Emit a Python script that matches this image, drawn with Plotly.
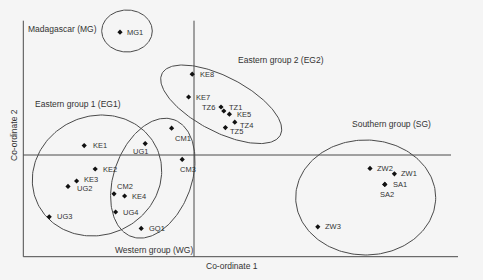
import numpy as np
import plotly.graph_objects as go

# ---- data (PCoA coordinates) ----
samples = ["MG1", "KE8", "KE7", "TZ6", "TZ1", "KE5", "TZ4", "TZ5", "CM1", "KE1",
           "UG1", "CM3", "KE2", "KE3", "UG2", "CM2", "KE4", "UG4", "UG3", "GQ1",
           "ZW2", "ZW1", "SA1", "SA2", "ZW3"]
coord1 = [-0.370, -0.009, -0.027, 0.135, 0.149, 0.177, 0.204, 0.157, -0.112, -0.549,
          -0.244, -0.059, -0.494, -0.587, -0.630, -0.400, -0.347, -0.392, -0.724, -0.264,
          0.880, 1.002, 0.954, 0.954, 0.619]
coord2 = [0.614, 0.404, 0.290, 0.240, 0.220, 0.204, 0.164, 0.137, 0.134, 0.047,
          0.057, -0.022, -0.070, -0.130, -0.157, -0.194, -0.205, -0.285, -0.309, -0.367,
          -0.067, -0.094, -0.147, -0.147, -0.359]

# label placement (pixel offsets from the point: left edge / vertical, + = down)
lab_dx = [5.7, 6.7, 6.6, -5.3, 4.0, 7.0, 4.3, 3.7, 2.0, 7.4,
          -13.6, -3.3, 6.7, 6.7, 7.6, 1.7, 6.0, 6.4, 6.4, 6.4,
          6.0, 6.0, 7.0, -5.7, 6.6]
lab_dy = [0, 0, 0, 0, -3.3, 0, 3.4, 4.0, 10.0, 0,
          7.7, 9.6, 0, -1.5, 1.8, -7.7, 0, 0, 0, 0,
          0, 0, 0, 10.0, 0]
lab_anchor = ["left"] * 3 + ["right"] + ["left"] * 21

# group ellipses: name, centre, semi-axes, rotation (deg)
group_names = ["Madagascar (MG)", "Eastern group 1 (EG1)", "Eastern group 2 (EG2)",
               "Western group (WG)", "Southern group (SG)"]
ell_cx = [-0.335, -0.485, 0.136, -0.206, 0.8585]
ell_cy = [0.620, -0.1025, 0.2535, -0.116, -0.2125]
ell_a = [0.1265, 0.3285, 0.3335, 0.311, 0.350]
ell_b = [0.105, 0.297, 0.1375, 0.194, 0.2875]
ell_ang = [0, 24, -27.5, 70, 0]
group_lab_x = [-0.66, -0.58, 0.4325, -0.20, 0.985]
group_lab_y = [0.63, 0.255, 0.475, -0.475, 0.155]

# axes frame
frame_x = [-0.8535, 1.32]
frame_y = [-0.5085, 0.6715]
hline_end = 1.285

FONT = "Liberation Sans, Arial, sans-serif"
LINE = "#4a4a4a"
TXT = "#333333"

fig = go.Figure()

t = np.linspace(0, 2 * np.pi, 200)
for cx, cy, a, b, ang in zip(ell_cx, ell_cy, ell_a, ell_b, ell_ang):
    th = np.deg2rad(ang)
    ex = cx + a * np.cos(t) * np.cos(th) - b * np.sin(t) * np.sin(th)
    ey = cy + a * np.cos(t) * np.sin(th) + b * np.sin(t) * np.cos(th)
    fig.add_trace(go.Scatter(x=ex, y=ey, mode="lines",
                             line=dict(color=LINE, width=1), hoverinfo="skip"))

# axis lines
fig.add_trace(go.Scatter(x=[frame_x[0], frame_x[0], frame_x[1]],
                         y=[frame_y[1], frame_y[0], frame_y[0]], mode="lines",
                         line=dict(color=LINE, width=1), hoverinfo="skip"))
fig.add_trace(go.Scatter(x=[frame_x[0], hline_end], y=[0, 0], mode="lines",
                         line=dict(color=LINE, width=1), hoverinfo="skip"))
fig.add_trace(go.Scatter(x=[0, 0], y=[frame_y[0], frame_y[1]], mode="lines",
                         line=dict(color=LINE, width=1), hoverinfo="skip"))

fig.add_trace(go.Scatter(
    x=coord1, y=coord2, mode="markers", text=samples,
    marker=dict(symbol="diamond", size=4, color="#111111"), cliponaxis=False))

for s, x, y, dx, dy, anc in zip(samples, coord1, coord2, lab_dx, lab_dy, lab_anchor):
    fig.add_annotation(x=x, y=y, text=s, showarrow=False, xanchor=anc, yanchor="middle",
                       xshift=dx, yshift=-dy, borderpad=0,
                       font=dict(family=FONT, size=7.5, color=TXT))

for name, gx, gy in zip(group_names, group_lab_x, group_lab_y):
    fig.add_annotation(x=gx, y=gy, text=name, showarrow=False,
                       xanchor="center", yanchor="middle",
                       font=dict(family=FONT, size=8.5, color=TXT))

fig.add_annotation(xref="paper", yref="paper", x=231.5 / 483, y=1 - 266 / 280,
                   text="Co-ordinate 1", showarrow=False,
                   xanchor="center", yanchor="middle",
                   font=dict(family=FONT, size=8.5, color=TXT))
fig.add_annotation(xref="paper", yref="paper", x=14 / 483, y=1 - 135 / 280,
                   text="Co-ordinate 2", showarrow=False, textangle=-90,
                   xanchor="center", yanchor="middle",
                   font=dict(family=FONT, size=8.5, color=TXT))

fig.update_layout(
    width=483, height=280, margin=dict(l=0, r=0, t=0, b=0),
    paper_bgcolor="#f5f5f5", plot_bgcolor="#f5f5f5", showlegend=False,
    xaxis=dict(range=[-0.97, 1.445], visible=False),
    yaxis=dict(range=[-0.625, 0.775], visible=False),
)
fig.write_html("out.html")
